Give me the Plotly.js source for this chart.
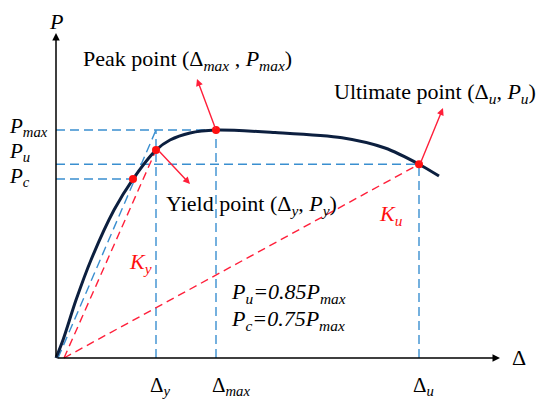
<!DOCTYPE html>
<html><head><meta charset="utf-8">
<script src="https://cdn.plot.ly/plotly-3.0.1.min.js"></script>
<style>html,body{margin:0;padding:0;background:#fff}</style>
</head><body><div id="plot" style="width:550px;height:406px"></div>
<script>
// Load–displacement skeleton curve (Δ in arbitrary units, P with Pmax = 100)
const curveDelta = [0, 0.7, 2.0, 3.5, 5.8, 7.7, 10.0, 11.4, 13.4, 16.0, 21.9, 28.6, 32.9, 36.3, 38.3];
const curveP     = [0, 7.9, 25.4, 43.0, 64.9, 78.5, 91.2, 95.6, 98.7, 100, 98.9, 96.6, 92.1, 85.0, 79.8];

// Characteristic points
const deltaY = 10.0, pY = 91.2;      // yield
const deltaMax = 16.0, pMax = 100;   // peak
const deltaU = 36.3, pU = 85.0;      // ultimate
const deltaC = 7.7, pC = 78.5;       // Pc point
const markDelta = [deltaC, deltaY, deltaMax, deltaU];
const markP     = [pC, pY, pMax, pU];

// Tangent (blue) and secant (red) stiffness lines
const tangentDelta = [0.2, deltaY];
const tangentP     = [0, pMax];
const kyDelta = [0.8, deltaY];
const kyP     = [0, pY];
const kuDelta = [0.8, deltaU];
const kuP     = [0, pU];

// Axis extent
const axisEndDelta = 44.4, axisEndP = 142.5;

const blue = '#3a8fd0', red = '#ff1f3a', navy = '#0c1f3f';
const font = 'Liberation Serif';

function dashed(x, y, color, dash) {
  return {x, y, type: 'scatter', mode: 'lines', hoverinfo: 'skip',
          line: {color, width: 1.4, dash}};
}
const bdash = '9px,5px', rdash = '8px,5px';
const traces = [
  dashed([0, deltaMax], [pMax, pMax], blue, bdash),
  dashed([0, deltaU], [pU, pU], blue, bdash),
  dashed([0, deltaC], [pC, pC], blue, bdash),
  dashed([deltaY, deltaY], [0, pMax], blue, bdash),
  dashed([deltaMax, deltaMax], [0, pMax], blue, bdash),
  dashed([deltaU, deltaU], [0, pU], blue, bdash),
  dashed(tangentDelta, tangentP, blue, bdash),
  dashed(kyDelta, kyP, red, rdash),
  dashed(kuDelta, kuP, red, rdash),
  {x: curveDelta, y: curveP, type: 'scatter', mode: 'lines', hoverinfo: 'skip',
   line: {color: navy, width: 3, shape: 'spline', smoothing: 0.8}},
  {x: markDelta, y: markP, type: 'scatter', mode: 'markers', hoverinfo: 'skip',
   marker: {color: '#ff1010', size: 8}}
];

function arrow(x, y, ax, ay, color, w) {
  return {x, y, ax, ay, xref: 'x', yref: 'y', axref: 'x', ayref: 'y', text: '',
          showarrow: true, arrowhead: 2, arrowsize: 1, arrowwidth: w, arrowcolor: color,
          standoff: 0, startstandoff: 0};
}
function label(x, y, text, xanchor, size, color) {
  return {x, y, xref: 'x', yref: 'y', text, showarrow: false, xanchor: xanchor || 'left',
          yanchor: 'middle', font: {family: font, size: size || 21, color: color || '#000'}};
}

const annotations = [
  arrow(axisEndDelta, 0, 0, 0, '#000', 1.5),
  arrow(0, axisEndP, 0, 0, '#000', 1.5),
  arrow(14.1, 122.4, deltaMax, pMax, red, 1.4),
  arrow(13.4, 76.3, deltaY + 0.2, pY, red, 1.4),
  arrow(38.7, 109.6, deltaU + 0.1, pU, red, 1.4),
  label(0, 147.8, '<i>P</i>', 'center', 22),
  label(45.4, 0.4, 'Δ', 'left', 22),
  label(-4.9, 101.5, '<i>P<sub>max</sub></i>'),
  label(-4.9, 90.2, '<i>P<sub>u</sub></i>'),
  label(-4.9, 79.6, '<i>P<sub>c</sub></i>'),
  label(9.2, -12.3, 'Δ<sub><i>y</i></sub>'),
  label(15.4, -12.3, 'Δ<sub><i>max</i></sub>'),
  label(35.5, -12.3, 'Δ<sub><i>u</i></sub>'),
  label(2.5, 130.7, 'Peak point (Δ<sub><i>max</i></sub> , <i>P<sub>max</sub></i>)', 'left', 22),
  label(27.6, 116.2, 'Ultimate point (Δ<sub><i>u</i></sub>, <i>P<sub>u</sub></i>)', 'left', 22),
  label(10.8, 67.1, 'Yield point (Δ<sub><i>y</i></sub>, <i>P<sub>y</sub></i>)', 'left', 22),
  label(7.1, 41.7, '<i>K<sub>y</sub></i>', 'left', 22, '#ff1010'),
  label(32.1, 62.7, '<i>K<sub>u</sub></i>', 'left', 22, '#ff1010'),
  label(17.3, 28.5, '<i>P<sub>u</sub>=0.85P<sub>max</sub></i>', 'left', 22),
  label(17.3, 16.7, '<i>P<sub>c</sub>=0.75P<sub>max</sub></i>', 'left', 22)
];

const layout = {
  width: 550, height: 406,
  margin: {l: 0, r: 0, t: 0, b: 0},
  paper_bgcolor: '#fff', plot_bgcolor: '#fff',
  showlegend: false,
  xaxis: {range: [-5.6, 49.4], visible: false, fixedrange: true},
  yaxis: {range: [-21.05, 157.02], visible: false, fixedrange: true},
  annotations
};
Plotly.newPlot('plot', traces, layout, {staticPlot: true, displayModeBar: false});
</script></body></html>
